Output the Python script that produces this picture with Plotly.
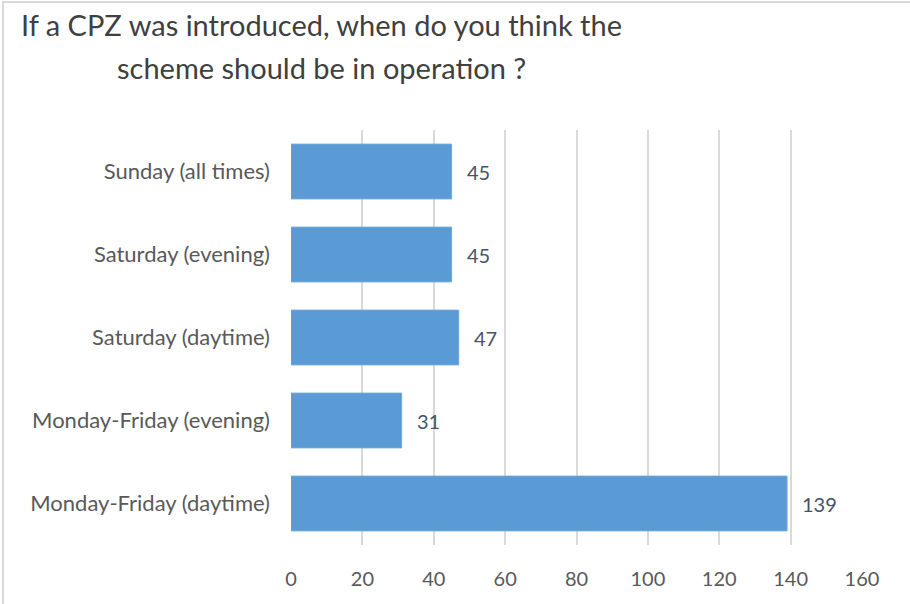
import plotly.graph_objects as go

categories = ["Monday-Friday (daytime)", "Monday-Friday (evening)", "Saturday (daytime)",
              "Saturday (evening)", "Sunday (all times)"]
values = [139, 31, 47, 45, 45]
x_ticks = [0, 20, 40, 60, 80, 100, 120, 140, 160]
title_lines = ["If a CPZ was introduced, when do you think the", "scheme should be in operation ?"]

FONT = "Lato"
L, R, T, B = 291, 48, 130, 59
PW, PH = 910 - L - R, 604 - T - B

fig = go.Figure(go.Bar(
    x=values, y=categories, orientation="h",
    marker=dict(color="#5B9BD5", line=dict(color="#6FA8DC", width=1)),
    width=0.66,
    hoverinfo="x+y",
))

for c, v in zip(categories, values):
    fig.add_annotation(x=v, y=c, xref="x", yref="y", text=str(v), showarrow=False,
                       xanchor="left", yanchor="middle", xshift=13,
                       font=dict(size=20, color="#44546A", family=FONT))

fig.update_layout(
    width=910, height=604,
    margin=dict(l=L, r=R, t=T, b=B),
    paper_bgcolor="white", plot_bgcolor="white",
    font=dict(family=FONT, color="#595959"),
    showlegend=False,
    xaxis=dict(range=[0, 160], tickvals=x_ticks, showgrid=True, gridcolor="#D9D9D9",
               gridwidth=2, zeroline=False, showline=False,
               tickfont=dict(size=20, color="#595959"), ticklabelstandoff=20,
               fixedrange=True),
    yaxis=dict(showgrid=False, zeroline=False, showline=False,
               tickfont=dict(size=22, color="#595959"), ticklabelstandoff=20,
               categoryorder="array", categoryarray=categories),
)

fig.add_shape(type="rect", xref="paper", yref="paper",
              x0=(3 - L) / PW, x1=(915 - L) / PW, y0=-(B + 10) / PH, y1=1 + (T - 2) / PH,
              line=dict(color="#D9D9D9", width=2), layer="below")

for i, (line, py) in enumerate(zip(title_lines, [25, 67])):
    fig.add_annotation(text=line, xref="paper", yref="paper",
                       x=(321 - L) / PW, y=1 + (T - py) / PH,
                       xanchor="center", yanchor="middle", showarrow=False,
                       font=dict(size=29, color="#404040", family=FONT))

fig.write_html("out.html", post_script="document.body.style.margin='0';",
               config={"displayModeBar": False})
